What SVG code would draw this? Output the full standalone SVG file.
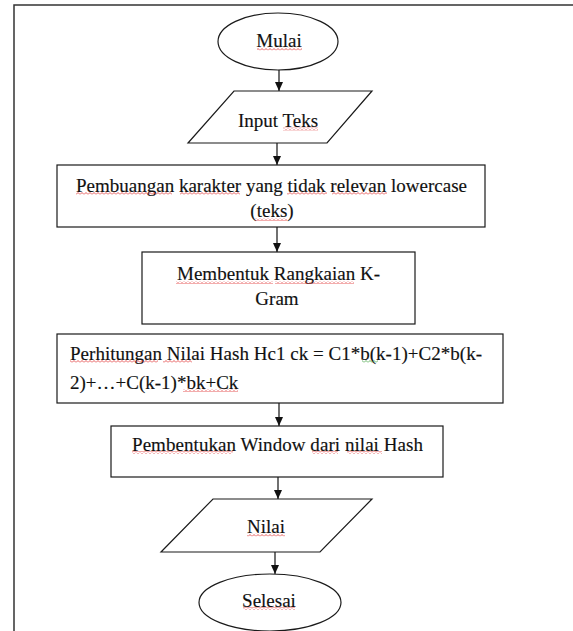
<svg xmlns="http://www.w3.org/2000/svg" width="573" height="631" viewBox="0 0 573 631">
<style>
.s{fill:#fff;stroke:#1a1a1a;stroke-width:1.2}
.t{font-family:"Liberation Serif","Times New Roman",serif;font-size:19px;fill:#111;stroke:#111;stroke-width:0.15}
.c{stroke:#111;stroke-width:1.2;fill:none;marker-end:url(#ah)}
.sq{fill:url(#red)}
.sqg{fill:url(#grn)}
</style>
<defs>
<marker id="ah" markerUnits="userSpaceOnUse" markerWidth="10" markerHeight="10" refX="9" refY="5" orient="auto">
<path d="M0,1 L9,5 L0,9 z" fill="#111"/>
</marker>
<pattern id="red" patternUnits="userSpaceOnUse" width="4" height="3">
<path d="M0,2.5 L2,0.5 L4,2.5" fill="none" stroke="#e03030" stroke-width="0.8"/>
</pattern>
<pattern id="grn" patternUnits="userSpaceOnUse" width="4" height="3">
<path d="M0,2.5 L2,0.5 L4,2.5" fill="none" stroke="#40a040" stroke-width="0.8"/>
</pattern>
</defs>
<rect width="573" height="631" fill="#fff"/>
<path d="M14,631 L14,5 L573,5" fill="none" stroke="#333" stroke-width="1.5"/>

<g id="connectors">
<line class="c" x1="279" y1="70" x2="279" y2="91"/>
<line class="c" x1="277" y1="143" x2="277" y2="165"/>
<line class="c" x1="277" y1="227" x2="277" y2="252"/>
<line class="c" x1="279" y1="403" x2="279" y2="426"/>
<line class="c" x1="278" y1="477" x2="278" y2="499"/>
<line class="c" x1="275" y1="552" x2="275" y2="574"/>
</g>

<g id="mulai">
<ellipse class="s" cx="278" cy="41.5" rx="60" ry="28.5"/>
<text class="t" x="279" y="47" text-anchor="middle">Mulai</text>
<rect class="sq" x="257" y="47.5" width="45" height="3"/>
</g>

<g id="input">
<polygon class="s" points="234,91 372,91 327,143 188,143"/>
<text class="t" x="278" y="126.5" text-anchor="middle">Input Teks</text>
<rect class="sq" x="283" y="127.5" width="35" height="3"/>
</g>

<g id="pembuangan">
<rect class="s" x="57" y="165" width="428" height="62"/>
<text class="t" x="76" y="191.5" textLength="391" lengthAdjust="spacing">Pembuangan karakter yang tidak relevan lowercase</text>
<text class="t" x="272" y="217" text-anchor="middle">(teks)</text>
<rect class="sq" x="76" y="192" width="96" height="3"/>
<rect class="sq" x="180" y="192" width="60" height="3"/>
<rect class="sq" x="287" y="192" width="40" height="3"/>
<rect class="sq" x="332" y="192" width="55" height="3"/>
<rect class="sq" x="255" y="218" width="32" height="3"/>
</g>

<g id="kgram">
<rect class="s" x="142" y="252" width="273" height="72"/>
<text class="t" x="177" y="280" textLength="203" lengthAdjust="spacing">Membentuk Rangkaian K-</text>
<text class="t" x="277" y="305" text-anchor="middle">Gram</text>
<rect class="sq" x="176" y="281" width="97" height="3"/>
<rect class="sq" x="275" y="281" width="79" height="3"/>
</g>

<g id="hash">
<rect class="s" x="57" y="334" width="446" height="69"/>
<text class="t" x="70" y="359.5" textLength="412" lengthAdjust="spacing">Perhitungan Nilai Hash Hc1 ck = C1*b(k-1)+C2*b(k-</text>
<text class="t" x="70" y="388.5">2)+…+C(k-1)*bk+Ck</text>
<rect class="sq" x="70" y="360" width="88" height="3"/>
<rect class="sq" x="163" y="360" width="29" height="3"/>
<rect class="sqg" x="362" y="360" width="16" height="3"/>
<rect class="sq" x="183" y="389" width="55" height="3"/>
</g>

<g id="window">
<rect class="s" x="111" y="426" width="332" height="51"/>
<text class="t" x="132" y="450.5" textLength="291" lengthAdjust="spacing">Pembentukan Window dari nilai Hash</text>
<rect class="sq" x="132" y="451" width="101" height="3"/>
<rect class="sq" x="312" y="451" width="26" height="3"/>
<rect class="sq" x="347" y="451" width="35" height="3"/>
</g>

<g id="nilai">
<polygon class="s" points="213,499 372,499 320,552 161,552"/>
<text class="t" x="266" y="533" text-anchor="middle">Nilai</text>
<rect class="sq" x="247" y="533.5" width="38" height="3"/>
</g>

<g id="selesai">
<ellipse class="s" cx="270" cy="602.5" rx="71" ry="28.5"/>
<text class="t" x="269" y="606.5" text-anchor="middle">Selesai</text>
<rect class="sq" x="243" y="607" width="52" height="3"/>
</g>
</svg>
